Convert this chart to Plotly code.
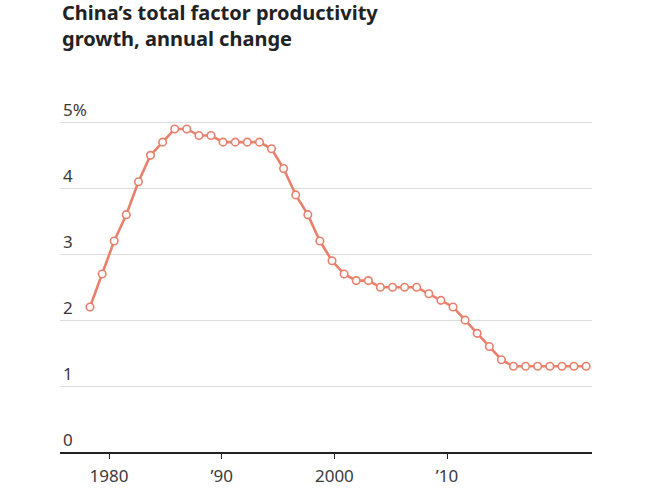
import plotly.graph_objects as go

# Point positions (decimal years) and values (% growth)
years = [1978.31, 1979.39, 1980.46, 1981.53, 1982.61, 1983.68, 1984.76, 1985.83,
         1986.90, 1987.98, 1989.05, 1990.12, 1991.20, 1992.27, 1993.35, 1994.42,
         1995.49, 1996.57, 1997.64, 1998.71, 1999.79, 2000.86, 2001.94, 2003.01,
         2004.08, 2005.16, 2006.23, 2007.30, 2008.38, 2009.45, 2010.53, 2011.60,
         2012.67, 2013.75, 2014.82, 2015.89, 2016.97, 2018.04, 2019.12, 2020.19,
         2021.26, 2022.34]
tfp_growth = [2.2, 2.7, 3.2, 3.6, 4.1, 4.5, 4.7, 4.9, 4.9, 4.8, 4.8, 4.7, 4.7, 4.7,
              4.7, 4.6, 4.3, 3.9, 3.6, 3.2, 2.9, 2.7, 2.6, 2.6, 2.5, 2.5, 2.5, 2.5,
              2.4, 2.3, 2.2, 2.0, 1.8, 1.6, 1.4, 1.3, 1.3, 1.3, 1.3, 1.3, 1.3, 1.3]

x_tickvals = [1980, 1990, 2000, 2010]
x_ticktext = ["1980", "\u201990", "2000", "\u201910"]
y_tickvals = [0, 1, 2, 3, 4, 5]
y_ticktext = ["0", "1", "2", "3", "4", "5%"]

title_text = "China\u2019s total factor productivity<br>growth, annual change"

LINE = "#e8806c"
TICKFONT = "Noto Sans, sans-serif"

fig = go.Figure()
fig.add_trace(go.Scatter(
    x=years, y=tfp_growth, mode="lines+markers",
    line=dict(color=LINE, width=2.6),
    marker=dict(size=7.5, color="white", line=dict(color=LINE, width=1.6)),
    hoverinfo="x+y", showlegend=False,
))

fig.add_annotation(
    text=title_text, xref="paper", yref="paper",
    x=0, xanchor="left", y=1.2794, yanchor="top",
    showarrow=False, align="left",
    font=dict(family="Noto Sans, sans-serif", size=20, color="#222", weight=700),
)

fig.update_layout(
    width=657, height=499,
    margin=dict(l=60, r=65, t=95.6, b=47, autoexpand=False),
    paper_bgcolor="white", plot_bgcolor="white",
    font=dict(family="Noto Sans, sans-serif", color="#333"),
    xaxis=dict(
        range=[1975.65, 2022.86],
        tickvals=x_tickvals, ticktext=x_ticktext,
        showgrid=False, zeroline=False, automargin=False,
        showline=True, linecolor="#222", linewidth=1.5,
        ticks="outside", ticklen=5, tickcolor="#222", tickwidth=1,
        ticklabelstandoff=3,
        tickfont=dict(family=TICKFONT, size=17, color="#3a3a3a"),
    ),
    yaxis=dict(
        range=[0, 5.4],
        tickvals=y_tickvals, ticktext=y_ticktext,
        showgrid=True, gridcolor="#dcdcdc", gridwidth=1,
        zeroline=False, showline=False, ticks="", automargin=False,
        ticklabelposition="inside top",
        tickfont=dict(family=TICKFONT, size=17, color="#3a3a3a"),
    ),
)

fig.write_html(
    "out.html",
    config={"displayModeBar": False},
    post_script="document.body.style.margin='0';document.body.style.padding='0';",
)
